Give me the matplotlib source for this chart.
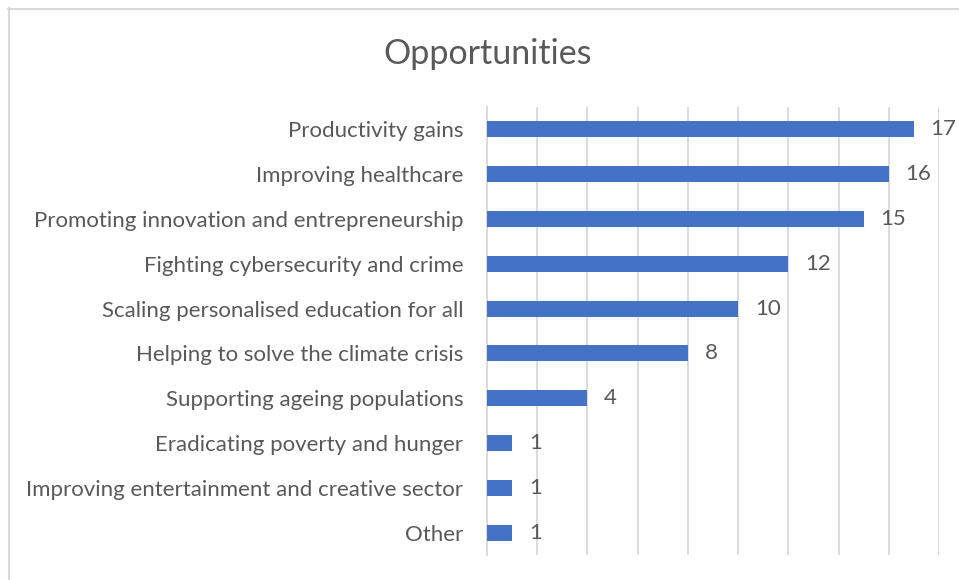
import matplotlib
matplotlib.use("Agg")
import matplotlib.pyplot as plt
from matplotlib.lines import Line2D

categories = [
    "Productivity gains",
    "Improving healthcare",
    "Promoting innovation and entrepreneurship",
    "Fighting cybersecurity and crime",
    "Scaling personalised education for all",
    "Helping to solve the climate crisis",
    "Supporting ageing populations",
    "Eradicating poverty and hunger",
    "Improving entertainment and creative sector",
    "Other",
]
values = [17, 16, 15, 12, 10, 8, 4, 1, 1, 1]
title = "Opportunities"

W, H = 959, 580
fig = plt.figure(figsize=(W / 100, H / 100), dpi=100)
plt.rcParams['font.family'] = ['Lato', 'DejaVu Sans']

left, right, top, bottom = 487, 939, 107, 555
ax = fig.add_axes([left / W, 1 - bottom / H, (right - left) / W, (bottom - top) / H])

text_color = "#595959"
grid_color = "#D9D9D9"
bar_color = "#4472C4"

n = len(categories)
ypos = list(range(n))
ax.barh(ypos, values, height=0.36, color=bar_color, zorder=3)
ax.set_ylim(n - 0.5, -0.5)
ax.set_xlim(0, 18)
ax.set_xticks(range(0, 19, 2))
ax.grid(axis="x", color=grid_color, linewidth=1.3, zorder=0)
ax.tick_params(axis="x", length=0, labelbottom=False)
ax.tick_params(axis="y", length=0, pad=17, labelsize=16, labelcolor=text_color)
ax.set_yticks(ypos)
ax.set_yticklabels(categories)
for s in ["top", "right", "bottom"]:
    ax.spines[s].set_visible(False)
ax.spines["left"].set_color(grid_color)
ax.spines["left"].set_linewidth(1.3)

for y, v in zip(ypos, values):
    ax.annotate(str(v), (v, y), xytext=(12, 0), textcoords="offset points",
                va="center", ha="left", fontsize=16, color=text_color)

fig.text(488 / W, 1 - 54 / H, title, ha="center", va="center", fontsize=24.5, color=text_color)

# outer frame (top and left visible)
fig.add_artist(Line2D([8 / W, 1], [1 - 8.5 / H, 1 - 8.5 / H], transform=fig.transFigure, color=grid_color, linewidth=1.5))
fig.add_artist(Line2D([8.5 / W, 8.5 / W], [0, 1 - 8 / H], transform=fig.transFigure, color=grid_color, linewidth=1.5))

fig.savefig("out.png", dpi=100)
